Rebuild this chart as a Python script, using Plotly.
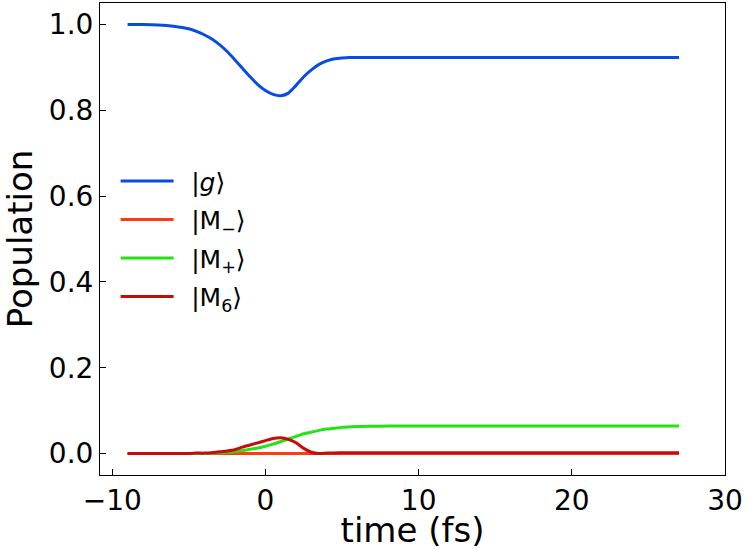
import plotly.graph_objects as go

time_fs = [-9, -8, -7, -6, -5, -4.5, -4, -3.5, -3, -2.5, -2, -1.5, -1, -0.5, 0, 0.5, 1,
           1.5, 2, 2.5, 3, 3.5, 4, 4.5, 5, 5.5, 6, 7, 8, 10, 15, 20, 27]

pop_g = [1.000, 1.000, 0.999, 0.996, 0.990, 0.984, 0.976, 0.966, 0.953, 0.937, 0.918,
         0.898, 0.878, 0.860, 0.846, 0.837, 0.834, 0.840, 0.858, 0.878, 0.894, 0.907,
         0.915, 0.920, 0.922, 0.923, 0.923, 0.923, 0.923, 0.923, 0.923, 0.923, 0.923]

pop_m_minus = [0.0] * len(time_fs)

pop_m_plus = [0.0, 0.0, 0.0, 0.0, 0.0, 0.0, 0.0, 0.001, 0.002, 0.003, 0.005, 0.007,
              0.010, 0.013, 0.017, 0.022, 0.028, 0.034, 0.040, 0.046, 0.050, 0.054,
              0.057, 0.059, 0.061, 0.062, 0.063, 0.0635, 0.064, 0.064, 0.064, 0.064, 0.064]

pop_m6 = [0.0, 0.0, 0.0, 0.0, 0.0, 0.001, 0.001, 0.002, 0.004, 0.006, 0.009, 0.015,
          0.020, 0.025, 0.030, 0.035, 0.037, 0.033, 0.025, 0.012, 0.003, 0.000, 0.001,
          0.0015, 0.002, 0.002, 0.002, 0.002, 0.002, 0.002, 0.002, 0.002, 0.002]

series = [
    ("\u2002|<i>g</i>⟩", pop_g, "rgb(10,75,228)"),
    ("\u2002|M<sub>−</sub>⟩", pop_m_minus, "rgb(255,60,15)"),
    ("\u2002|M<sub>+</sub>⟩", pop_m_plus, "rgb(40,225,20)"),
    ("\u2002|M<sub>6</sub>⟩", pop_m6, "rgb(200,10,10)"),
]

fig = go.Figure()
for i, (name, vals, color) in enumerate(series):
    fig.add_trace(go.Scatter(
        x=time_fs, y=vals, mode="lines", name=name, legendgroup=str(i),
        line=dict(color=color, width=3, shape="spline", smoothing=0.6),
    ))

font_family = "DejaVu Sans"
fig.update_layout(
    width=745, height=550,
    margin=dict(l=100, r=20, t=3, b=75, autoexpand=False),
    paper_bgcolor="white", plot_bgcolor="white",
    font=dict(family=font_family, size=28, color="black"),
    showlegend=True,
    legend=dict(
        x=0.025, y=0.671, xanchor="left", yanchor="top",
        bgcolor="rgba(0,0,0,0)", font=dict(size=25),
        tracegroupgap=3, traceorder="grouped", itemwidth=53,
    ),
    xaxis=dict(
        range=[-10.8, 30], tickvals=[-10, 0, 10, 20, 30],
        ticktext=["−10", "0", "10", "20", "30"],
        ticks="inside", ticklen=6, tickwidth=1, tickcolor="black",
        showline=True, linecolor="black", linewidth=1, mirror=True,
        showgrid=False, zeroline=False, automargin=True,
        title=dict(text="time (fs)", standoff=8, font=dict(size=34)),
    ),
    yaxis=dict(
        range=[-0.05, 1.05], tickvals=[0, 0.2, 0.4, 0.6, 0.8, 1.0],
        ticktext=["0.0", "0.2", "0.4", "0.6", "0.8", "1.0"],
        ticks="inside", ticklen=6, tickwidth=1, tickcolor="black",
        showline=True, linecolor="black", linewidth=1, mirror=True,
        showgrid=False, zeroline=False, automargin=True,
        title=dict(text="Population", standoff=6, font=dict(size=34)),
    ),
)

fig.write_html("out.html", config={"displayModeBar": False},
               post_script="document.body.style.margin='0';")
